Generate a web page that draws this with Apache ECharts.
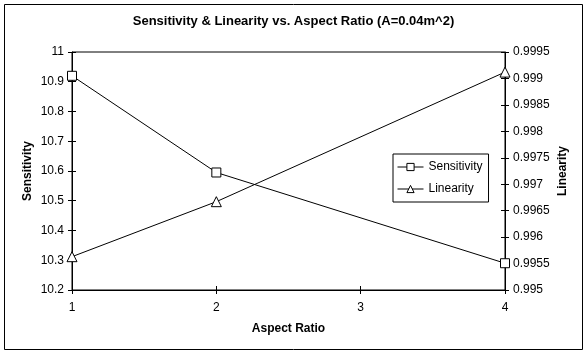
<!DOCTYPE html>
<html>
<head>
<meta charset="utf-8">
<script src="https://cdn.jsdelivr.net/npm/echarts@6/dist/echarts.min.js"></script>
<style>html,body{margin:0;padding:0;background:#fff}#c{width:587px;height:355px}</style>
</head>
<body>
<div id="c"></div>
<script>
const aspectRatio = [1, 2, 4];
const sensitivity = [10.92, 10.595, 10.29];
const linearity = [0.99563, 0.99667, 0.99912];
const titleText = 'Sensitivity & Linearity vs. Aspect Ratio (A=0.04m^2)';

const chart = echarts.init(document.getElementById('c'), null, {renderer: 'canvas'});
const font = 'Liberation Sans, Arial, sans-serif';
const axisCommon = {
  axisLine: {show: true, lineStyle: {color: '#000', width: 1}},
  axisTick: {show: true, length: 4, lineStyle: {color: '#000'}},
  axisLabel: {color: '#000', fontFamily: font, fontSize: 12},
  splitLine: {show: false},
  nameTextStyle: {color: '#000', fontFamily: font, fontSize: 12, fontWeight: 'bold'}
};
// invisible duplicate axes that only draw the inner half of each tick
const innerTicks = {
  axisLine: {show: false},
  axisTick: {show: true, inside: true, length: 4, lineStyle: {color: '#000'}},
  axisLabel: {show: false},
  splitLine: {show: false}
};
chart.setOption({
  animation: false,
  backgroundColor: '#fff',
  textStyle: {fontFamily: font},
  title: {
    text: titleText, left: 'center', top: 10,
    textStyle: {fontFamily: font, fontSize: 13, fontWeight: 'bold', color: '#000'}
  },
  graphic: [{
    type: 'rect', shape: {x: 4.5, y: 4.5, width: 578, height: 345},
    style: {fill: null, stroke: '#000', lineWidth: 1}, silent: true, z: -1
  }],
  grid: {left: 72, right: 82, top: 52, bottom: 65, show: true, borderColor: '#000', borderWidth: 1, backgroundColor: 'transparent'},
  legend: {
    orient: 'vertical', left: 393, top: 154,
    borderColor: '#000', borderWidth: 1, padding: [7, 6, 7, 4],
    itemGap: 10, itemWidth: 26, itemHeight: 9,
    lineStyle: {width: 1},
    itemStyle: {borderWidth: 1},
    textStyle: {color: '#000', fontFamily: font, fontSize: 12},
    data: ['Sensitivity', 'Linearity']
  },
  xAxis: [
    Object.assign({}, axisCommon, {
      type: 'value', min: 1, max: 4, interval: 1, position: 'bottom',
      name: 'Aspect Ratio', nameLocation: 'middle', nameGap: 33,
      axisLabel: Object.assign({}, axisCommon.axisLabel, {margin: 12})
    }),
    Object.assign({}, innerTicks, {type: 'value', min: 1, max: 4, interval: 1, position: 'bottom'})
  ],
  yAxis: [
    Object.assign({}, axisCommon, {
      type: 'value', min: 10.2, max: 11, interval: 0.1, position: 'left',
      name: 'Sensitivity', nameLocation: 'middle', nameGap: 38, nameRotate: 90,
      nameMoveOverlap: false,
      axisLabel: Object.assign({}, axisCommon.axisLabel, {formatter: v => +v.toFixed(1) + ''})
    }),
    Object.assign({}, axisCommon, {
      type: 'value', min: 0.995, max: 0.9995, interval: 0.0005, position: 'right',
      name: 'Linearity', nameLocation: 'middle', nameGap: 52, nameRotate: 90,
      nameMoveOverlap: false,
      axisLabel: Object.assign({}, axisCommon.axisLabel, {formatter: v => +v.toFixed(4) + ''})
    }),
    Object.assign({}, innerTicks, {type: 'value', min: 10.2, max: 11, interval: 0.1, position: 'left'}),
    Object.assign({}, innerTicks, {type: 'value', min: 0.995, max: 0.9995, interval: 0.0005, position: 'right'})
  ],
  series: [
    {
      name: 'Sensitivity', type: 'line', xAxisIndex: 0, yAxisIndex: 0,
      data: aspectRatio.map((x, i) => [x, sensitivity[i]]),
      symbol: 'rect', symbolSize: 9,
      lineStyle: {color: '#000', width: 1},
      itemStyle: {color: '#fff', borderColor: '#000', borderWidth: 1}
    },
    {
      name: 'Linearity', type: 'line', xAxisIndex: 0, yAxisIndex: 1,
      data: aspectRatio.map((x, i) => [x, linearity[i]]),
      symbol: 'triangle', symbolSize: 10,
      lineStyle: {color: '#000', width: 1},
      itemStyle: {color: '#fff', borderColor: '#000', borderWidth: 1}
    }
  ]
});
</script>
</body>
</html>
